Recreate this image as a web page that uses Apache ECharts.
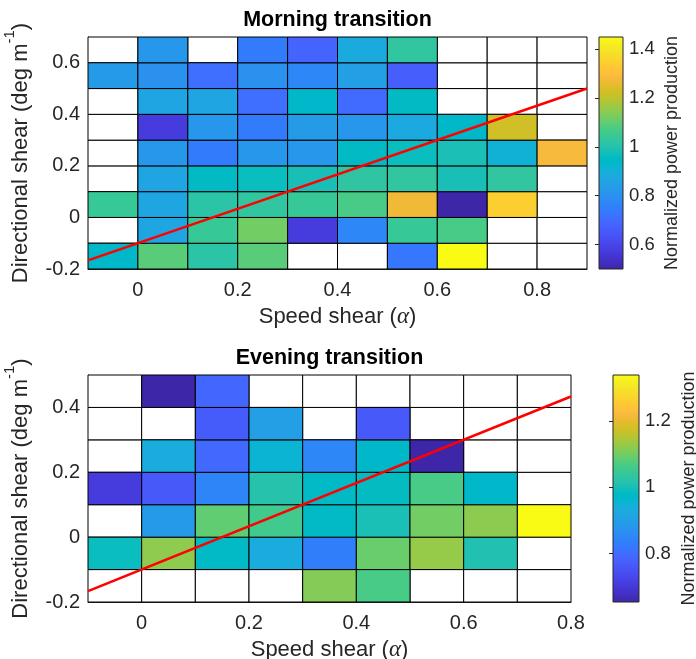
<!DOCTYPE html>
<html>
<head>
<meta charset="utf-8">
<script src="https://cdn.jsdelivr.net/npm/echarts@6/dist/echarts.min.js"></script>
<style>
html,body{margin:0;padding:0;background:#fff;}
#chart{width:696px;height:659px;}
</style>
</head>
<body>
<div id="chart"></div>
<script>
// ---------------- DATA ----------------
const binWidth = 0.1;
const binHeight = 0.1;

// Morning transition
const morningXEdges = [-0.1, 0, 0.1, 0.2, 0.3, 0.4, 0.5, 0.6, 0.7, 0.8];
const morningYEdges = [-0.2, -0.1, 0, 0.1, 0.2, 0.3, 0.4, 0.5, 0.6];
// rows from bottom (y = -0.2) to top (y = 0.6); null = no data
const morningValues = [
  [0.937, 1.089, 1.013, 1.089, null, null, 0.728, 1.45, null, null],
  [null, 0.862, 1.042, 1.118, 0.576, 0.772, 1.042, 1.07, null, null],
  [1.042, 0.862, 1.013, 1.028, 1.042, 1.07, 1.27, 0.50, 1.345, null],
  [null, 0.862, 0.952, 0.966, 0.983, 1.023, 1.028, 0.983, 1.028, null],
  [null, 0.816, 0.741, 0.816, 0.816, 0.952, 0.966, 0.985, 0.909, 1.284],
  [null, 0.576, 0.816, 0.741, 0.833, 0.816, 0.877, 0.937, 1.224, null],
  [null, 0.862, 0.862, 0.711, 0.937, 0.70, 0.952, null, null, null],
  [0.833, 0.801, 0.711, 0.801, 0.772, 0.847, 0.666, null, null, null],
  [null, 0.816, null, 0.741, 0.68, 0.88, 1.028, null, null, null]
];
const morningColorRange = [0.50, 1.45];
const morningXTicks = [0, 0.2, 0.4, 0.6, 0.8];
const morningYTicks = [-0.2, 0, 0.2, 0.4, 0.6];
const morningCbarTicks = [0.6, 0.8, 1, 1.2, 1.4];

// Evening transition
const eveningXEdges = [-0.1, 0, 0.1, 0.2, 0.3, 0.4, 0.5, 0.6, 0.7];
const eveningYEdges = [-0.2, -0.1, 0, 0.1, 0.2, 0.3, 0.4];
const eveningValues = [
  [null, null, null, null, 1.113, 1.065, null, null, null],
  [0.99, 1.122, 0.976, 0.935, 0.832, 1.093, 1.127, 1.01, null],
  [null, 0.893, 1.086, 1.058, 0.976, 1.003, 1.10, 1.12, 1.34],
  [0.708, 0.763, 0.845, 1.017, 0.976, 0.983, 1.065, 0.969, null],
  [null, 0.935, 0.795, 0.955, 0.85, 0.969, 0.653, null, null],
  [null, null, 0.77, 0.904, null, 0.763, null, null, null],
  [null, 0.653, 0.79, null, null, null, null, null, null]
];
const eveningColorRange = [0.653, 1.34];
const eveningXTicks = [0, 0.2, 0.4, 0.6, 0.8];
const eveningYTicks = [-0.2, 0, 0.2, 0.4];
const eveningCbarTicks = [0.8, 1, 1.2];

// Red reference line: [slope, intercept]
const refLine = [0.667, -0.1];

// ---------------- COLORMAP (parula) ----------------
const PARULA = [
[0.2422,0.1504,0.6603],[0.2504,0.1650,0.7076],[0.2578,0.1818,0.7511],[0.2647,0.1978,0.7952],
[0.2706,0.2147,0.8364],[0.2751,0.2342,0.8710],[0.2783,0.2559,0.8991],[0.2803,0.2782,0.9221],
[0.2813,0.3006,0.9414],[0.2810,0.3228,0.9579],[0.2795,0.3447,0.9717],[0.2760,0.3667,0.9829],
[0.2699,0.3892,0.9906],[0.2602,0.4123,0.9952],[0.2440,0.4358,0.9988],[0.2206,0.4603,0.9973],
[0.1963,0.4847,0.9892],[0.1834,0.5074,0.9798],[0.1786,0.5289,0.9682],[0.1764,0.5499,0.9520],
[0.1687,0.5703,0.9359],[0.1540,0.5902,0.9218],[0.1460,0.6091,0.9079],[0.1380,0.6276,0.8973],
[0.1248,0.6459,0.8883],[0.1113,0.6635,0.8763],[0.0952,0.6798,0.8598],[0.0689,0.6948,0.8394],
[0.0297,0.7082,0.8163],[0.0036,0.7203,0.7917],[0.0067,0.7312,0.7660],[0.0433,0.7411,0.7394],
[0.0964,0.7500,0.7120],[0.1408,0.7584,0.6842],[0.1717,0.7670,0.6554],[0.1938,0.7758,0.6251],
[0.2161,0.7843,0.5923],[0.2470,0.7918,0.5567],[0.2906,0.7973,0.5188],[0.3406,0.8008,0.4789],
[0.3909,0.8029,0.4354],[0.4456,0.8024,0.3909],[0.5044,0.7993,0.3480],[0.5616,0.7942,0.3045],
[0.6174,0.7876,0.2612],[0.6720,0.7793,0.2227],[0.7242,0.7698,0.1910],[0.7738,0.7598,0.1646],
[0.8203,0.7498,0.1535],[0.8634,0.7406,0.1596],[0.9035,0.7330,0.1774],[0.9393,0.7288,0.2100],
[0.9728,0.7298,0.2394],[0.9956,0.7434,0.2371],[0.9970,0.7659,0.2199],[0.9952,0.7893,0.2028],
[0.9892,0.8136,0.1885],[0.9786,0.8386,0.1766],[0.9676,0.8639,0.1643],[0.9610,0.8890,0.1537],
[0.9597,0.9135,0.1423],[0.9628,0.9373,0.1265],[0.9691,0.9606,0.1064],[0.9769,0.9839,0.0805]
];
const toHex = c => '#' + c.map(v => Math.round(v * 255).toString(16).padStart(2, '0')).join('');
const parulaHex = PARULA.map(toHex);

// ---------------- BUILD ----------------
const FONT = '"Liberation Sans", Arial, Helvetica, sans-serif';
const TXT = '#262626';
const fmt = v => String(+(+v).toFixed(2));
const clean = v => +v.toFixed(6);

function cellData(xEdges, yEdges, values, wantFilled) {
  const out = [];
  values.forEach((row, j) => row.forEach((v, i) => {
    const filled = v !== null;
    if (wantFilled === filled) out.push([xEdges[i], yEdges[j], filled ? v : 0]);
  }));
  return out;
}

function cellRenderer(fillMode) {
  return function (params, api) {
    const x0 = api.value(0), y0 = api.value(1);
    const p0 = api.coord([x0, y0]);
    const p1 = api.coord([clean(x0 + binWidth), clean(y0 + binHeight)]);
    return {
      type: 'rect',
      shape: { x: p0[0], y: p1[1], width: p1[0] - p0[0], height: p0[1] - p1[1] },
      style: { fill: fillMode === 'white' ? '#ffffff' : api.visual('color'), stroke: '#000000', lineWidth: 1 }
    };
  };
}

function cbarRenderer(range) {
  return function (params, api) {
    const p0 = api.coord([0, range[0]]);
    const p1 = api.coord([1, range[1]]);
    return {
      type: 'rect',
      shape: { x: p0[0], y: p1[1], width: p1[0] - p0[0], height: p0[1] - p1[1] },
      style: {
        fill: new echarts.graphic.LinearGradient(0, 1, 0, 0,
          parulaHex.map((c, k) => ({ offset: k / (parulaHex.length - 1), color: c }))),
        stroke: TXT, lineWidth: 1
      }
    };
  };
}

const grids = [], xAxes = [], yAxes = [], series = [], visualMaps = [];

function addPanel(p) {
  const gi = grids.length;
  grids.push({ left: p.grid[0], top: p.grid[1], width: p.grid[2], height: p.grid[3], containLabel: false, outerBoundsMode: 'none' });
  const xMin = p.xEdges[0], xMax = clean(p.xEdges[p.xEdges.length - 1] + binWidth);
  const yMin = p.yEdges[0], yMax = clean(p.yEdges[p.yEdges.length - 1] + binHeight);
  xAxes.push({
    gridIndex: gi, type: 'value', min: xMin, max: xMax,
    name: '{n|Speed shear (}{a|α}{n|)}', nameLocation: 'middle', nameGap: 36,
    nameTextStyle: {
      rich: {
        n: { fontFamily: FONT, fontSize: 22, color: TXT },
        a: { fontFamily: '"Liberation Serif", "DejaVu Serif", serif', fontStyle: 'italic', fontSize: 23, color: TXT }
      }
    },
    axisLine: { show: true, onZero: false, lineStyle: { color: TXT, width: 1 } },
    axisTick: { show: false },
    splitLine: { show: false },
    axisLabel: { customValues: p.xTicks, showMaxLabel: true, formatter: fmt, fontFamily: FONT, fontSize: 20, color: TXT, margin: 11 }
  });
  yAxes.push({
    gridIndex: gi, type: 'value', min: yMin, max: yMax,
    name: '{n|Directional shear (deg m}{s|-1}{n|)}', nameLocation: 'middle', nameGap: 56, nameRotate: 90,
    nameTextStyle: {
      rich: {
        n: { fontFamily: FONT, fontSize: 22, color: TXT, lineHeight: 30, verticalAlign: 'bottom' },
        s: { fontFamily: FONT, fontSize: 15, color: TXT, lineHeight: 30, verticalAlign: 'top' }
      }
    },
    axisLine: { show: true, onZero: false, lineStyle: { color: TXT, width: 1 } },
    axisTick: { show: false },
    splitLine: { show: false },
    axisLabel: { customValues: p.yTicks, formatter: fmt, fontFamily: FONT, fontSize: 20, color: TXT, margin: 8 }
  });
  series.push({
    type: 'custom', xAxisIndex: gi, yAxisIndex: gi, renderItem: cellRenderer('white'),
    data: cellData(p.xEdges, p.yEdges, p.values, false), silent: true, z: 2
  });
  const heatIndex = series.length;
  series.push({
    type: 'custom', xAxisIndex: gi, yAxisIndex: gi, renderItem: cellRenderer('color'),
    encode: { x: 0, y: 1 },
    data: cellData(p.xEdges, p.yEdges, p.values, true), silent: true, z: 3
  });
  visualMaps.push({
    type: 'continuous', show: false, min: p.colorRange[0], max: p.colorRange[1],
    dimension: 2, seriesIndex: heatIndex, inRange: { color: parulaHex }
  });
  series.push({
    type: 'line', xAxisIndex: gi, yAxisIndex: gi, symbol: 'none', silent: true, z: 5,
    data: [[xMin, refLine[1] + refLine[0] * xMin], [xMax, refLine[1] + refLine[0] * xMax]],
    lineStyle: { color: '#ff0000', width: 2.5 }
  });

  // colorbar
  const ci = grids.length;
  grids.push({ left: p.cbar[0], top: p.cbar[1], width: p.cbar[2], height: p.cbar[3], containLabel: false, outerBoundsMode: 'none' });
  xAxes.push({ gridIndex: ci, type: 'value', min: 0, max: 1, show: false });
  yAxes.push({
    gridIndex: ci, type: 'value', position: 'right', min: p.colorRange[0], max: p.colorRange[1],
    name: 'Normalized power production', nameLocation: 'middle', nameGap: p.cbarNameGap, nameRotate: 90,
    nameTextStyle: { fontFamily: FONT, fontSize: 18, color: TXT },
    axisLine: { show: false },
    axisTick: { show: true, inside: true, length: 4, customValues: p.cbarTicks, lineStyle: { color: TXT } },
    splitLine: { show: false },
    axisLabel: { customValues: p.cbarTicks, formatter: fmt, fontFamily: FONT, fontSize: 18.5, color: TXT, margin: 6 }
  });
  series.push({
    type: 'custom', xAxisIndex: ci, yAxisIndex: ci, renderItem: cbarRenderer(p.colorRange),
    data: [[0, p.colorRange[0]]], silent: true, z: 2
  });
}

addPanel({
  grid: [88, 37, 499, 232], cbar: [599, 37, 24, 232], cbarNameGap: 40,
  xEdges: morningXEdges, yEdges: morningYEdges, values: morningValues,
  colorRange: morningColorRange, xTicks: morningXTicks, yTicks: morningYTicks, cbarTicks: morningCbarTicks
});
addPanel({
  grid: [88, 375, 483, 227], cbar: [613, 375, 26, 227], cbarNameGap: 41,
  xEdges: eveningXEdges, yEdges: eveningYEdges, values: eveningValues,
  colorRange: eveningColorRange, xTicks: eveningXTicks, yTicks: eveningYTicks, cbarTicks: eveningCbarTicks
});

const chart = echarts.init(document.getElementById('chart'), null, { renderer: 'canvas' });
chart.setOption({
  animation: false,
  backgroundColor: '#ffffff',
  title: [
    { text: 'Morning transition', left: 337.5, top: 9, textAlign: 'center', padding: 0,
      textStyle: { fontFamily: FONT, fontSize: 21.5, fontWeight: 'bold', color: '#000' } },
    { text: 'Evening transition', left: 329.5, top: 347, textAlign: 'center', padding: 0,
      textStyle: { fontFamily: FONT, fontSize: 21.5, fontWeight: 'bold', color: '#000' } }
  ],
  grid: grids,
  xAxis: xAxes,
  yAxis: yAxes,
  visualMap: visualMaps,
  series: series
});
</script>
</body>
</html>
